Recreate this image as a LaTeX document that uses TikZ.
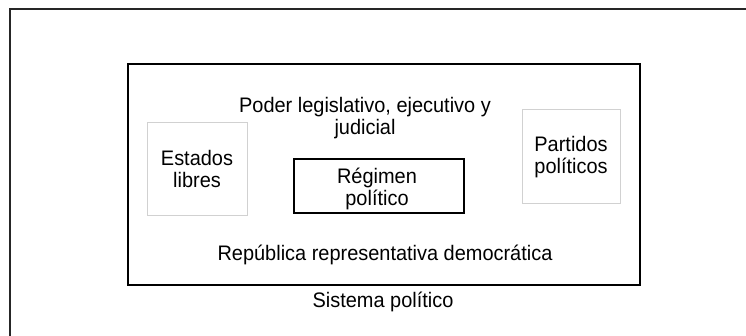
\documentclass[tikz,border=0pt]{standalone}
\usepackage{fontspec}
\setmainfont[FakeStretch=0.95]{Liberation Sans}
\begin{document}
\begin{tikzpicture}[x=1pt,y=-1pt,
  frame/.style={draw=black!85,line width=1.3pt},
  sysbox/.style={draw=black,line width=1.4pt,inner sep=0pt},
  softbox/.style={draw=black!18,line width=0.8pt,fill=white,inner sep=0pt},
  regbox/.style={draw=black,line width=1.4pt,inner sep=0pt},
  lbl/.style={font=\fontsize{21}{22}\selectfont,align=center,inner sep=0pt,anchor=base}]
\useasboundingbox (0,0) rectangle (746,335);
\coordinate (fa) at (10,336);
\coordinate (fb) at (10,9);
\coordinate (fc) at (747,9);
\draw[frame] (fa) -- (fb) -- (fc);
\node[sysbox,minimum width=512pt,minimum height=221pt] (sys) at (384,174.5) {};
\node[softbox,minimum width=100pt,minimum height=93pt] (est) at (197,168.5) {};
\node[softbox,minimum width=98pt,minimum height=94pt] (par) at (571,156) {};
\node[regbox,minimum width=170pt,minimum height=54pt] (reg) at (379,186) {};
\node[lbl] (estt) at (197,187) {Estados\\libres};
\node[lbl] (part) at (571,173) {Partidos\\políticos};
\node[lbl] (regt) at (377,205) {Régimen\\político};
\node[lbl] (pod) at (365,134) {Poder legislativo, ejecutivo y\\judicial};
\node[lbl] (rep) at (385,260) {República representativa democrática};
\node[lbl] (sis) at (383,307) {Sistema político};
\end{tikzpicture}
\end{document}
